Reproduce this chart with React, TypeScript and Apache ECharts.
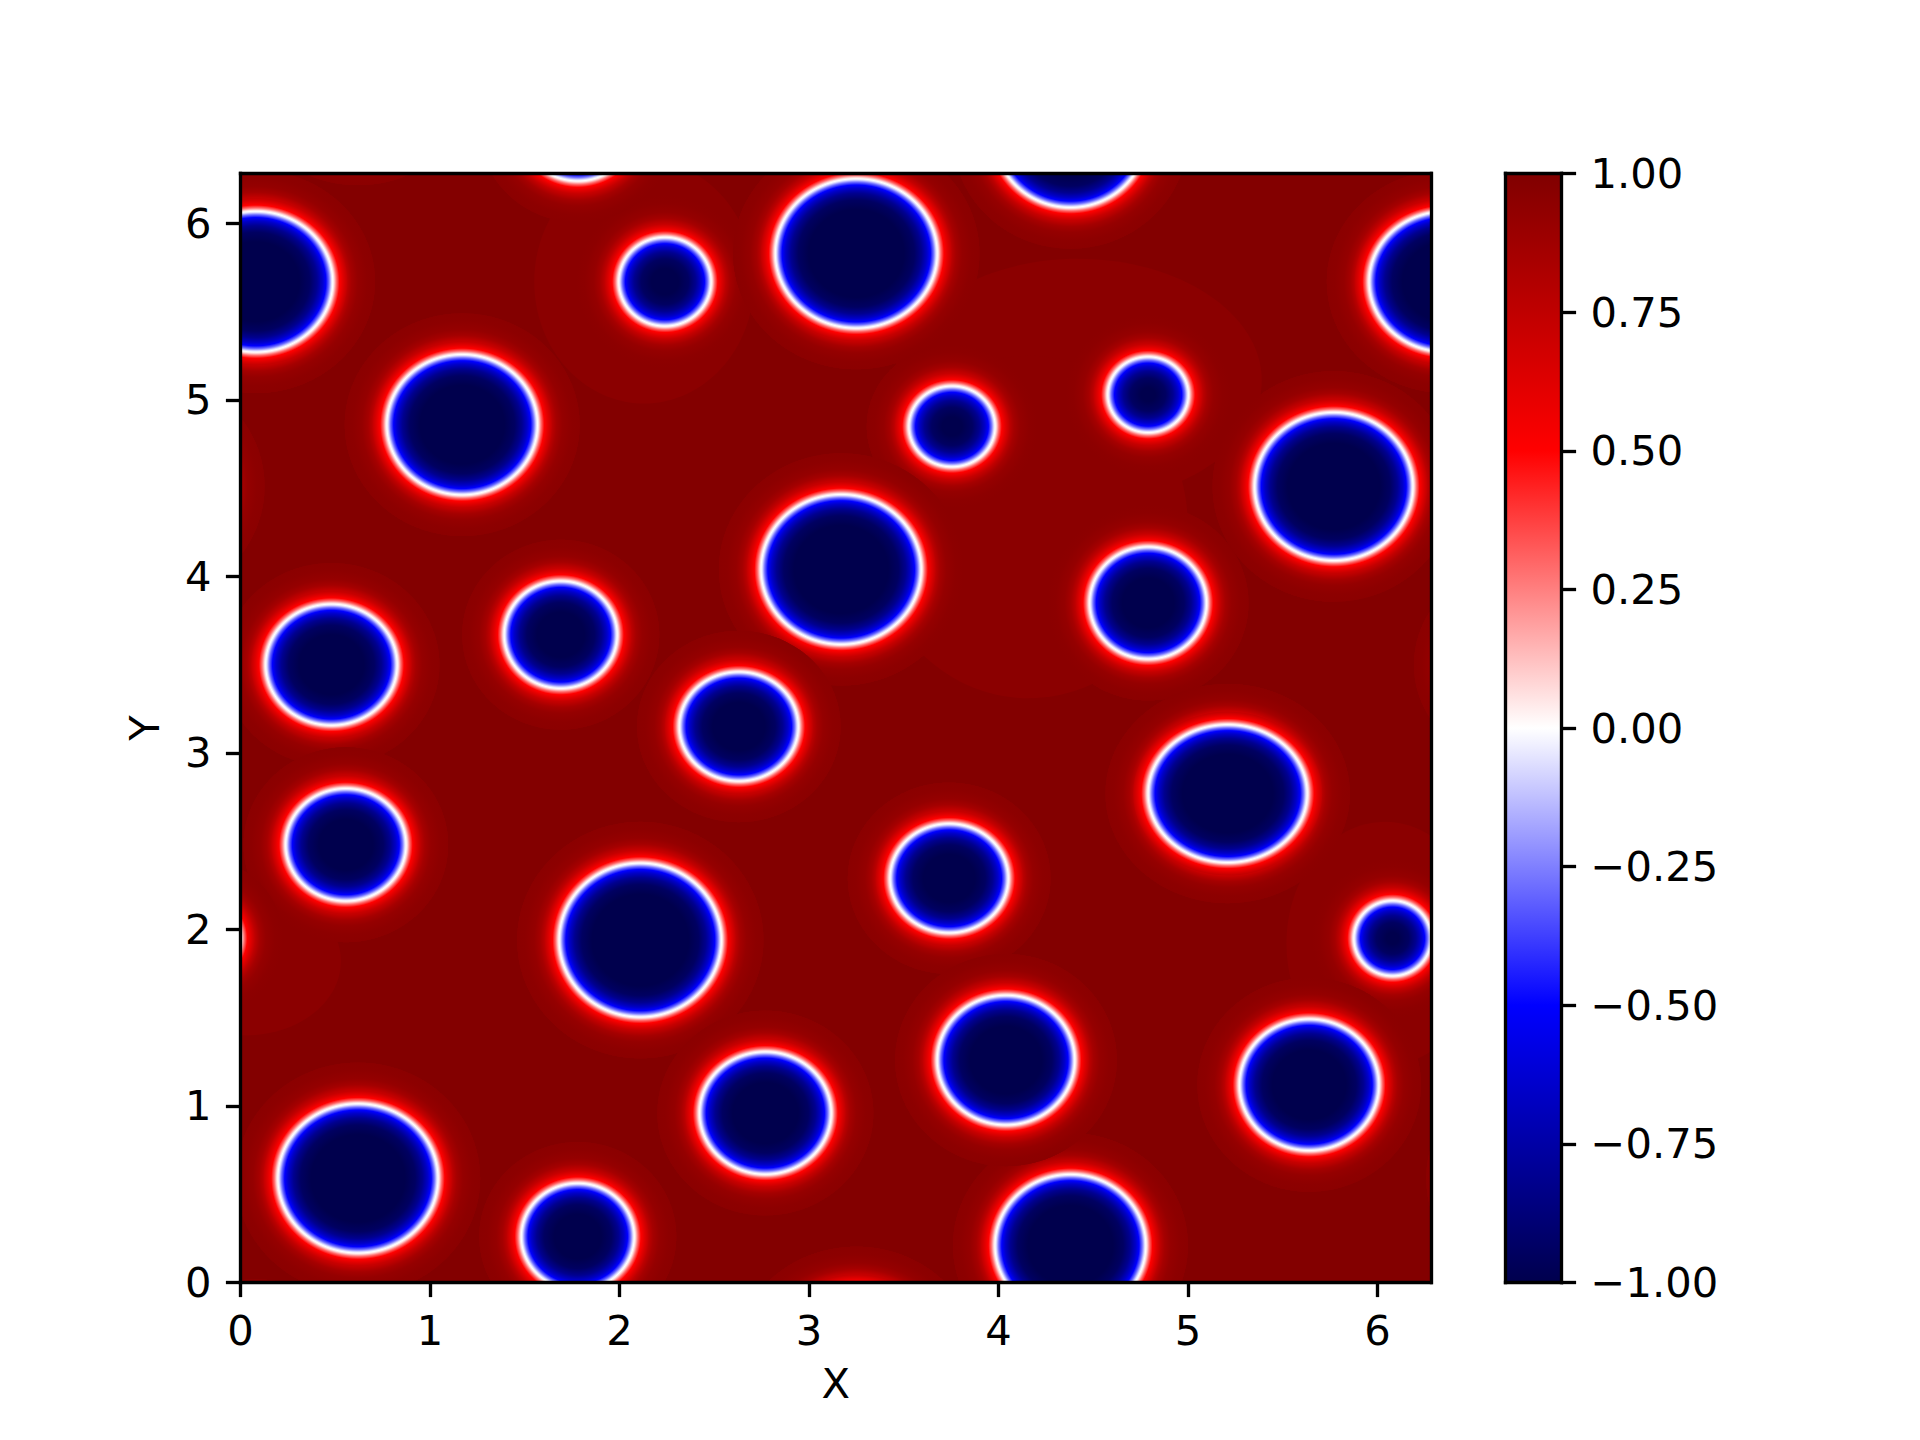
import React, { useEffect, useRef } from "react";
import * as echarts from "echarts";

const DOMAIN_MAX = 6.283;
const xTicks = [0, 1, 2, 3, 4, 5, 6];
const yTicks = [0, 1, 2, 3, 4, 5, 6];

// droplets (data units)
const dropletX = [0.08, 2.24, 3.25, 4.38, 1.78, 1.17, 3.755, 4.79, 5.77, 3.17, 4.79, 1.69, 0.48, 2.63, 5.21, 0.556, 3.74, 2.11, 6.08, 4.04, 5.64, 2.77, 0.62];
const dropletY = [5.67, 5.67, 5.83, 0.21, 0.26, 4.86, 4.85, 5.03, 4.51, 4.04, 3.85, 3.67, 3.5, 3.15, 2.77, 2.48, 2.29, 1.94, 1.95, 1.26, 1.12, 0.96, 0.59];
const dropletRx = [0.41, 0.245, 0.43, 0.4, 0.3, 0.4, 0.23, 0.215, 0.42, 0.425, 0.31, 0.3, 0.35, 0.317, 0.425, 0.32, 0.315, 0.43, 0.205, 0.365, 0.37, 0.35, 0.425];
const dropletRy = [0.395, 0.25, 0.42, 0.4, 0.3, 0.395, 0.226, 0.212, 0.417, 0.422, 0.316, 0.302, 0.34, 0.306, 0.385, 0.316, 0.306, 0.434, 0.212, 0.365, 0.37, 0.344, 0.42];

// faintly lighter regions of the bulk phase
const patchX = [2.13, 4.42, 4.16, 0.03, 6.04];
const patchY = [5.67, 5.11, 4.28, 1.82, 1.92];
const patchRx = [0.58, 0.97, 0.84, 0.5, 0.52];
const patchRy = [0.69, 0.69, 0.97, 0.42, 0.69];

const colorbarStops = [-1, -0.5, 0, 0.5, 1];
const colorbarColors = ["#00004d", "#0000ff", "#ffffff", "#ff0000", "#800000"];
const colorbarTicks = [-1, -0.75, -0.5, -0.25, 0, 0.25, 0.5, 0.75, 1];

// interface colour profile: distance from the white ring (px) and colour
const profileDist = [-32, -22, -15, -10, -6.5, -3.5, -1.2, 0, 1.2, 3.5, 6.5, 10, 14, 19, 25, 34, 42];
const profileColor = ["#00004d", "#000062", "#000090", "#0000c8", "#0000ff", "#7070ff", "#e0e0ff", "#ffffff", "#ffe0e0", "#ff7070", "#ff0000", "#e00000", "#c00000", "#a50000", "#950000", "#8d0000", "#8b0000"];
const CORE_EDGE = 14;
const HALO = 42;

const FONT = "DejaVu Sans";
const FS = 41.67;
const LW = 3.33;
const TICK = 14.6;
const line = { show: true, onZero: false, lineStyle: { color: "#000", width: LW, cap: "square" } };
const tick = { show: true, length: TICK, lineStyle: { color: "#000", width: LW } };
const frame = (extra: any) => ({
  type: "value",
  z: 10,
  silent: true,
  axisLine: line,
  axisTick: { show: false },
  axisLabel: { show: false },
  splitLine: { show: false },
  ...extra,
});

function wrapped() {
  const out: number[][] = [];
  const P = DOMAIN_MAX;
  dropletX.forEach((x, i) => {
    const y = dropletY[i];
    const rx = dropletRx[i];
    const ry = dropletRy[i];
    for (const dx of [-P, 0, P]) {
      for (const dy of [-P, 0, P]) {
        const X = x + dx;
        const Y = y + dy;
        if (X + rx + 0.35 > 0 && X - rx - 0.35 < P && Y + ry + 0.35 > 0 && Y - ry - 0.35 < P) {
          out.push([X, Y, rx, ry]);
        }
      }
    }
  });
  return out;
}

// one radial-gradient ellipse per droplet, cut off at "limit" px beyond the ring
const dropletItem = (limit: number) => (_p: any, api: any) => {
  const c = api.coord([api.value(0), api.value(1)]);
  const s = api.size([api.value(2), api.value(3)]);
  const R = (s[0] + s[1]) / 2;
  const outer = R + limit;
  const stops: { offset: number; color: string }[] = [];
  profileDist.forEach((d, i) => {
    if (d <= limit) stops.push({ offset: Math.max(0, (R + d) / outer), color: profileColor[i] });
  });
  stops.push({ offset: 1, color: limit === HALO ? "rgba(139,0,0,0)" : profileColor[profileDist.indexOf(limit)] });
  return {
    type: "ellipse",
    shape: { cx: c[0], cy: c[1], rx: s[0] + limit, ry: s[1] + limit },
    style: { fill: new echarts.graphic.RadialGradient(0.5, 0.5, 0.5, stops, false) },
  };
};

export default function App() {
  const ref = useRef<HTMLDivElement>(null);
  useEffect(() => {
    const chart = echarts.init(ref.current!, undefined, { renderer: "svg" });
    const data = wrapped();
    const option: any = {
      animation: false,
      backgroundColor: "#fff",
      textStyle: { fontFamily: FONT },
      grid: [
        { left: 240.5, top: 173.5, width: 1190.5, height: 1109, show: true, backgroundColor: "#830000", borderWidth: 0 },
        { left: 1505.5, top: 173.5, width: 56, height: 1109, show: false },
      ],
      xAxis: [
        {
          type: "value", gridIndex: 0, min: 0, max: DOMAIN_MAX, position: "bottom", z: 10,
          name: "X", nameLocation: "middle", nameGap: 80,
          nameTextStyle: { fontFamily: FONT, fontSize: FS, color: "#000" },
          axisLine: line,
          axisTick: { ...tick, customValues: xTicks },
          axisLabel: { customValues: xTicks, margin: 27, fontFamily: FONT, fontSize: FS, color: "#000" },
          splitLine: { show: false },
        },
        frame({ gridIndex: 0, min: 0, max: DOMAIN_MAX, position: "top" }),
        frame({ gridIndex: 1, min: 0, max: 1, position: "bottom" }),
        frame({ gridIndex: 1, min: 0, max: 1, position: "top" }),
      ],
      yAxis: [
        {
          type: "value", gridIndex: 0, min: 0, max: DOMAIN_MAX, position: "left", z: 10,
          name: "Y", nameLocation: "middle", nameGap: 75,
          nameTextStyle: { fontFamily: FONT, fontSize: FS, color: "#000" },
          axisLine: line,
          axisTick: { ...tick, customValues: yTicks },
          axisLabel: { customValues: yTicks, margin: 29, fontFamily: FONT, fontSize: FS, color: "#000" },
          splitLine: { show: false },
        },
        frame({ gridIndex: 0, min: 0, max: DOMAIN_MAX, position: "right" }),
        {
          type: "value", gridIndex: 1, min: -1, max: 1, interval: 0.25, position: "right", z: 10,
          axisLine: line,
          axisTick: tick,
          axisLabel: {
            margin: 29, fontFamily: FONT, fontSize: FS, color: "#000",
            formatter: (v: number) => (v < 0 ? "\u2212" : "") + Math.abs(v).toFixed(2),
            customValues: colorbarTicks,
          },
          splitLine: { show: false },
        },
        frame({ gridIndex: 1, min: -1, max: 1, position: "left" }),
      ],
      series: [
        {
          type: "custom", xAxisIndex: 0, yAxisIndex: 0, clip: true, z: 2, silent: true,
          encode: { x: 0, y: 1 },
          data: patchX.map((x, i) => [x, patchY[i], patchRx[i], patchRy[i]]),
          renderItem: (_p: any, api: any) => {
            const c = api.coord([api.value(0), api.value(1)]);
            const s = api.size([api.value(2), api.value(3)]);
            return { type: "ellipse", shape: { cx: c[0], cy: c[1], rx: s[0], ry: s[1] }, style: { fill: "#8b0000" } };
          },
        },
        {
          type: "custom", xAxisIndex: 0, yAxisIndex: 0, clip: true, z: 3, silent: true,
          encode: { x: 0, y: 1 }, data, renderItem: dropletItem(HALO),
        },
        {
          type: "custom", xAxisIndex: 0, yAxisIndex: 0, clip: true, z: 4, silent: true,
          encode: { x: 0, y: 1 }, data, renderItem: dropletItem(CORE_EDGE),
        },
        {
          type: "custom", xAxisIndex: 2, yAxisIndex: 2, clip: true, z: 2, silent: true,
          encode: { y: 0 },
          data: [[colorbarStops[0], colorbarStops[colorbarStops.length - 1]]],
          renderItem: (_p: any, api: any) => {
            const a = api.coord([0, api.value(1)]);
            const b = api.coord([1, api.value(0)]);
            const stops = colorbarStops.map((v, i) => ({
              offset: (colorbarStops[colorbarStops.length - 1] - v) / 2,
              color: colorbarColors[i],
            })).sort((p, q) => p.offset - q.offset);
            return {
              type: "rect",
              shape: { x: a[0], y: a[1], width: b[0] - a[0], height: b[1] - a[1] },
              style: { fill: new echarts.graphic.LinearGradient(0, 0, 0, 1, stops, false) },
            };
          },
        },
      ],
    };
    chart.setOption(option);
    return () => chart.dispose();
  }, []);
  return <div ref={ref} style={{ position: "absolute", left: 0, top: 0, width: 1920, height: 1440 }} />;
}
